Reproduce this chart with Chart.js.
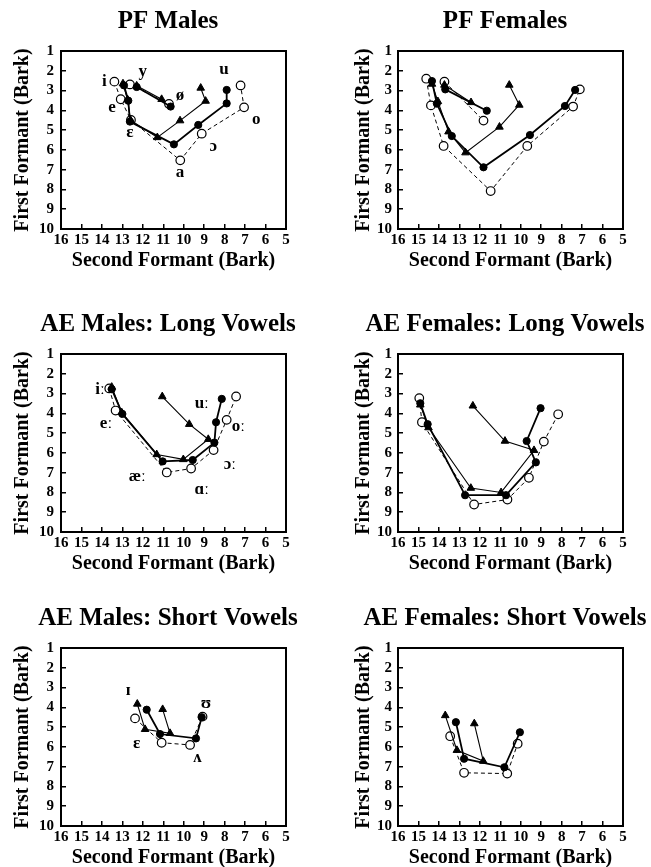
<!DOCTYPE html>
<html>
<head>
<meta charset="utf-8">
<script src="https://cdn.jsdelivr.net/npm/chart.js@4.4.0/dist/chart.umd.min.js"></script>
<style>
  html, body { margin: 0; padding: 0; background: #fff; }
  #page { position: relative; width: 651px; height: 867px; overflow: hidden; }
  canvas { position: absolute; }
</style>
</head>
<body>
<div id="page">
  <canvas id="pfMales" width="336" height="284" style="left:0;top:0"></canvas>
  <canvas id="pfFemales" width="338" height="284" style="left:336px;top:0"></canvas>
  <canvas id="aeMalesLong" width="336" height="284" style="left:0;top:303px"></canvas>
  <canvas id="aeFemalesLong" width="338" height="284" style="left:336px;top:303px"></canvas>
  <canvas id="aeMalesShort" width="336" height="284" style="left:0;top:597px"></canvas>
  <canvas id="aeFemalesShort" width="338" height="284" style="left:336px;top:597px"></canvas>
</div>
<script>
// axis ranges (Bark)
const f2Range = [5, 16];
const f1Range = [1, 10];

// PF vowels: i e ɛ a ɔ o u, plus front rounded y ø
const pfVowels = ['i', 'e', 'ɛ', 'a', 'ɔ', 'o', 'u'];
const pfRounded = ['y', 'ø'];

const pfmFilledF2 = [12.92, 12.71, 12.63, 10.48, 9.29, 7.90, 7.90];
const pfmFilledF1 = [2.74, 3.51, 4.57, 5.72, 4.74, 3.65, 2.97];
const pfmOpenF2 = [13.39, 13.08, 12.58, 10.17, 9.12, 7.05, 7.22];
const pfmOpenF1 = [2.55, 3.44, 4.49, 6.53, 5.18, 3.85, 2.74];
const pfmTriF2 = [12.97, 12.75, 12.60, 11.29, 10.18, 8.93, 9.17];
const pfmTriF1 = [2.65, 3.45, 4.50, 5.37, 4.52, 3.53, 2.87];
const pfmRndFilledF2 = [12.30, 10.64];
const pfmRndFilledF1 = [2.82, 3.81];
const pfmRndOpenF2 = [12.63, 10.72];
const pfmRndOpenF1 = [2.69, 3.68];
const pfmRndTriF2 = [12.30, 11.08];
const pfmRndTriF1 = [2.76, 3.44];

const pffFilledF2 = [14.34, 14.10, 13.37, 11.82, 9.55, 7.84, 7.34];
const pffFilledF1 = [2.52, 3.66, 5.30, 6.88, 5.25, 3.78, 2.97];
const pffOpenF2 = [14.62, 14.39, 13.77, 11.47, 9.68, 7.44, 7.11];
const pffOpenF1 = [2.40, 3.75, 5.80, 8.08, 5.80, 3.81, 2.94];
const pffTriF2 = [14.34, 14.05, 13.53, 12.70, 11.04, 10.07, 10.56];
const pffTriF1 = [2.67, 3.55, 5.08, 6.14, 4.84, 3.73, 2.72];
const pffRndFilledF2 = [13.69, 11.66];
const pffRndFilledF1 = [2.94, 4.02];
const pffRndOpenF2 = [13.73, 11.82];
const pffRndOpenF1 = [2.55, 4.52];
const pffRndTriF2 = [13.73, 12.43];
const pffRndTriF1 = [2.72, 3.60];

// AE long vowels: iː eː æː ɑː ɔː oː uː
const aeLongVowels = ['iː', 'eː', 'æː', 'ɑː', 'ɔː', 'oː', 'uː'];

const aemlFilledF2 = [13.52, 13.00, 11.03, 9.56, 8.50, 8.42, 8.14];
const aemlFilledF1 = [2.78, 4.03, 6.43, 6.36, 5.48, 4.45, 3.27];
const aemlOpenF2 = [13.64, 13.33, 10.83, 9.64, 8.54, 7.90, 7.44];
const aemlOpenF1 = [2.74, 3.86, 6.99, 6.79, 5.86, 4.33, 3.15];
const aemlTriF2 = [13.52, 13.03, 11.32, 10.02, 8.80, 9.73, 11.05];
const aemlTriF1 = [2.67, 3.96, 6.08, 6.33, 5.31, 4.55, 3.15];

const aeflFilledF2 = [14.91, 14.55, 12.72, 10.72, 9.26, 9.71, 9.03];
const aeflFilledF1 = [3.49, 4.55, 8.14, 8.14, 6.48, 5.40, 3.74];
const aeflOpenF2 = [14.96, 14.83, 12.28, 10.65, 9.60, 8.87, 8.17];
const aeflOpenF1 = [3.23, 4.45, 8.61, 8.36, 7.26, 5.43, 4.05];
const aeflTriF2 = [14.91, 14.51, 12.44, 10.96, 9.35, 10.77, 12.34];
const aeflTriF1 = [3.57, 4.72, 7.78, 8.00, 5.87, 5.40, 3.62];

// AE short vowels: ɪ ɛ ʌ ʊ
const aeShortVowels = ['ɪ', 'ɛ', 'ʌ', 'ʊ'];

const aemsFilledF2 = [11.81, 11.16, 9.40, 9.12];
const aemsFilledF1 = [4.12, 5.35, 5.57, 4.50];
const aemsOpenF2 = [12.38, 11.08, 9.69, 9.08];
const aemsOpenF1 = [4.56, 5.79, 5.90, 4.47];
const aemsTriF2 = [12.27, 11.89, 10.67, 11.03];
const aemsTriF1 = [3.83, 5.11, 5.31, 4.10];

const aefsFilledF2 = [13.17, 12.77, 10.80, 10.04];
const aefsFilledF1 = [4.75, 6.60, 7.03, 5.26];
const aefsOpenF2 = [13.45, 12.77, 10.66, 10.15];
const aefsOpenF1 = [5.46, 7.31, 7.35, 5.84];
const aefsTriF2 = [13.69, 13.12, 11.83, 12.27];
const aefsTriF1 = [4.41, 6.17, 6.72, 4.82];

// vowel label placement (in Bark), left-hand panels only
const pfmLabelText = ['i', 'y', 'u', 'e', 'ø', 'ɛ', 'o', 'ɔ', 'a'];
const pfmLabelF2 = [13.88, 12.00, 8.03, 13.51, 10.18, 12.63, 6.46, 8.55, 10.18];
const pfmLabelF1 = [2.55, 2.05, 1.96, 3.85, 3.26, 5.13, 4.49, 5.84, 7.15];
const aemlLabelF2 = [14.09, 13.80, 12.27, 9.12, 7.74, 7.33, 9.12];
const aemlLabelF1 = [2.81, 4.54, 7.18, 7.84, 6.57, 4.67, 3.49];
const aemsLabelF2 = [12.71, 12.30, 9.33, 8.91];
const aemsLabelF1 = [3.16, 5.85, 6.53, 3.83];

const SERIF = '"Liberation Serif", "Times New Roman", "DejaVu Serif", serif';
Chart.defaults.font.family = SERIF;
Chart.defaults.color = '#000';

const seriesStyle = {
    filled: { borderWidth: 1.8, pointStyle: 'circle', pointRadius: 3.6, pointBackgroundColor: '#000', pointBorderWidth: 1 },
    tri: { borderWidth: 1.1, pointStyle: 'triangle', pointRadius: 4.4, pointBackgroundColor: '#000', pointBorderWidth: 1 },
    open: { borderWidth: 1, borderDash: [4, 3], pointStyle: 'circle', pointRadius: 4.3, pointBackgroundColor: '#fff', pointBorderWidth: 1.2 }
};

function series(kind, f2, f1) {
    return Object.assign({
        data: f2.map((x, i) => ({ x: x, y: f1[i] })),
        showLine: true,
        fill: false,
        borderColor: '#000',
        pointBorderColor: '#000',
        pointHoverRadius: 0
    }, seriesStyle[kind]);
}

function labelPlugin(text, f2, f1) {
    return {
        id: 'vowelLabels',
        afterDatasetsDraw(chart) {
            if (!text) return;
            const { ctx, scales: { x, y } } = chart;
            ctx.save();
            ctx.font = 'bold 17px ' + SERIF;
            ctx.fillStyle = '#000';
            ctx.textAlign = 'center';
            ctx.textBaseline = 'middle';
            text.forEach((t, i) => ctx.fillText(t, x.getPixelForValue(f2[i]), y.getPixelForValue(f1[i])));
            ctx.restore();
        }
    };
}

function buildAxes(col) {
    const tickFont = { family: SERIF, size: 15, weight: 'bold' };
    const titleFont = { family: SERIF, size: 20, weight: 'bold' };
    return {
        x: {
            type: 'linear', position: 'bottom', reverse: true, min: f2Range[0], max: f2Range[1],
            ticks: { stepSize: 1, autoSkip: false, maxRotation: 0, padding: 7, color: '#000', font: tickFont },
            grid: { drawOnChartArea: false, drawTicks: true, tickLength: -5, color: '#000', lineWidth: 1.5 },
            border: { display: true, color: '#000', width: 2 },
            title: { display: true, text: 'Second Formant (Bark)', color: '#000', font: titleFont, padding: { top: 0, bottom: 6 } },
            afterFit: s => { s.height = 50; }
        },
        y: {
            type: 'linear', position: 'left', reverse: true, min: f1Range[0], max: f1Range[1],
            ticks: { stepSize: 1, autoSkip: false, padding: col === 0 ? 12 : 11, color: '#000', font: tickFont },
            grid: { drawOnChartArea: false, drawTicks: true, tickLength: -5, color: '#000', lineWidth: 1.5 },
            border: { display: true, color: '#000', width: 2 },
            title: { display: true, text: 'First Formant (Bark)', color: '#000', font: titleFont, padding: { top: col === 0 ? 10.5 : 16.3, bottom: 0 } },
            afterFit: s => { s.width = col === 0 ? 61 : 62; }
        },
        // top and right edges of the frame
        x2: {
            type: 'linear', position: 'top', display: true,
            ticks: { display: false }, grid: { display: false },
            border: { display: true, color: '#000', width: 2 },
            afterFit: s => { s.height = 0; }
        },
        y2: {
            type: 'linear', position: 'right', display: true,
            ticks: { display: false }, grid: { display: false },
            border: { display: true, color: '#000', width: 2 },
            afterFit: s => { s.width = col === 0 ? 50 : 51; }
        }
    };
}

function makePanel(id, col, title, datasets, labels) {
    const ctx = document.getElementById(id).getContext('2d');
    new Chart(ctx, {
        type: 'scatter',
        data: { datasets: datasets },
        options: {
            responsive: false,
            animation: false,
            layout: { padding: { top: 0, right: 0, bottom: 5, left: 0 } },
            plugins: {
                legend: { display: false },
                tooltip: { enabled: false },
                title: {
                    display: true, text: title, color: '#000',
                    font: { family: SERIF, size: 25, weight: 'bold' },
                    padding: { top: 7, bottom: 14 }
                }
            },
            scales: buildAxes(col)
        },
        plugins: [labels ? labelPlugin(labels[0], labels[1], labels[2]) : labelPlugin(null)]
    });
}

makePanel('pfMales', 0, 'PF Males', [
    series('filled', pfmFilledF2, pfmFilledF1),
    series('filled', pfmRndFilledF2, pfmRndFilledF1),
    series('tri', pfmTriF2, pfmTriF1),
    series('tri', pfmRndTriF2, pfmRndTriF1),
    series('open', pfmOpenF2, pfmOpenF1),
    series('open', pfmRndOpenF2, pfmRndOpenF1)
], [pfmLabelText, pfmLabelF2, pfmLabelF1]);

makePanel('pfFemales', 1, 'PF Females', [
    series('filled', pffFilledF2, pffFilledF1),
    series('filled', pffRndFilledF2, pffRndFilledF1),
    series('tri', pffTriF2, pffTriF1),
    series('tri', pffRndTriF2, pffRndTriF1),
    series('open', pffOpenF2, pffOpenF1),
    series('open', pffRndOpenF2, pffRndOpenF1)
]);

makePanel('aeMalesLong', 0, 'AE Males: Long Vowels', [
    series('filled', aemlFilledF2, aemlFilledF1),
    series('tri', aemlTriF2, aemlTriF1),
    series('open', aemlOpenF2, aemlOpenF1)
], [aeLongVowels, aemlLabelF2, aemlLabelF1]);

makePanel('aeFemalesLong', 1, 'AE Females: Long Vowels', [
    series('filled', aeflFilledF2, aeflFilledF1),
    series('tri', aeflTriF2, aeflTriF1),
    series('open', aeflOpenF2, aeflOpenF1)
]);

makePanel('aeMalesShort', 0, 'AE Males: Short Vowels', [
    series('filled', aemsFilledF2, aemsFilledF1),
    series('tri', aemsTriF2, aemsTriF1),
    series('open', aemsOpenF2, aemsOpenF1)
], [aeShortVowels, aemsLabelF2, aemsLabelF1]);

makePanel('aeFemalesShort', 1, 'AE Females: Short Vowels', [
    series('filled', aefsFilledF2, aefsFilledF1),
    series('tri', aefsTriF2, aefsTriF1),
    series('open', aefsOpenF2, aefsOpenF1)
]);
</script>
</body>
</html>
